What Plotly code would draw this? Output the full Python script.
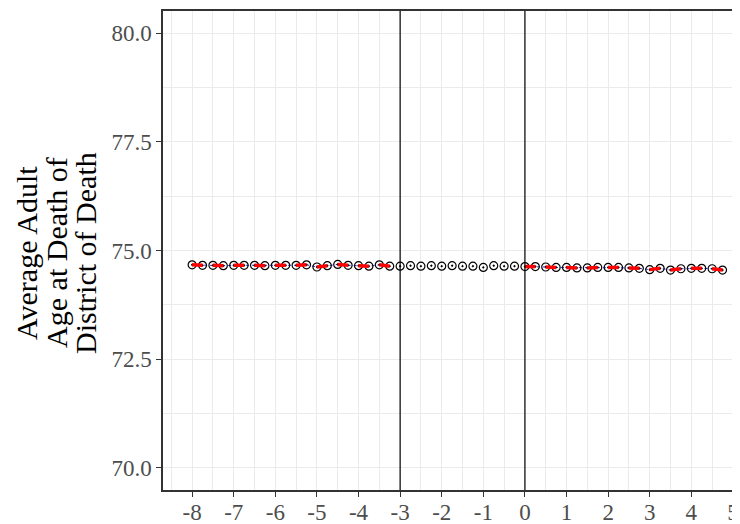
import plotly.graph_objects as go
import math

# running variable (bins) and average adult age at death
x_vals = [-8.0, -7.75, -7.5, -7.25, -7.0, -6.75, -6.5, -6.25, -6.0, -5.75,
          -5.5, -5.25, -5.0, -4.75, -4.5, -4.25, -4.0, -3.75, -3.5, -3.25,
          -3.0, -2.75, -2.5, -2.25, -2.0, -1.75, -1.5, -1.25, -1.0, -0.75,
          -0.5, -0.25, 0.0, 0.25, 0.5, 0.75, 1.0, 1.25, 1.5, 1.75,
          2.0, 2.25, 2.5, 2.75, 3.0, 3.25, 3.5, 3.75, 4.0, 4.25,
          4.5, 4.75]
y_vals = [74.67, 74.66, 74.66, 74.65, 74.66, 74.66, 74.66, 74.65, 74.66, 74.66,
          74.66, 74.67, 74.62, 74.65, 74.68, 74.66, 74.65, 74.64, 74.67, 74.64,
          74.64, 74.65, 74.64, 74.65, 74.64, 74.65, 74.64, 74.64, 74.61, 74.65,
          74.64, 74.64, 74.63, 74.63, 74.62, 74.61, 74.61, 74.60, 74.60, 74.61,
          74.61, 74.61, 74.60, 74.59, 74.56, 74.59, 74.55, 74.58, 74.59, 74.59,
          74.58, 74.55]

cutoffs = [-3, 0]
x_ticks = list(range(-8, 6))
y_ticks = [70.0, 72.5, 75.0, 77.5, 80.0]
y_title_lines = ["Average Adult", "Age at Death of", "District of Death"]

# build red pair segments and blue dotted lines from data
red_x, red_y = [], []
groups = {}
for xv, yv in zip(x_vals, y_vals):
    if cutoffs[0] <= xv < cutoffs[1]:
        continue
    key = math.floor(xv / 0.5 + 1e-9)
    groups.setdefault(key, []).append((xv, yv))
for key in sorted(groups):
    pts = groups[key]
    red_x += [p[0] for p in pts] + [None]
    red_y += [p[1] for p in pts] + [None]

blue_x, blue_y = [], []
for side in (lambda v: v < cutoffs[0], lambda v: v >= cutoffs[1]):
    pts = [(a, b) for a, b in zip(x_vals, y_vals) if side(a)]
    blue_x += [p[0] for p in pts] + [None]
    blue_y += [p[1] for p in pts] + [None]

fig = go.Figure()
for c in cutoffs:
    fig.add_vline(x=c, line=dict(color="black", width=1.2))
fig.add_trace(go.Scatter(x=blue_x, y=blue_y, mode="lines",
                         line=dict(color="#2d2dd6", width=1, dash="dot"),
                         hoverinfo="skip", showlegend=False))
fig.add_trace(go.Scatter(x=x_vals, y=y_vals, mode="markers",
                         marker=dict(symbol="circle-open-dot", size=8, color="black",
                                     line=dict(width=1.2, color="black")),
                         showlegend=False))
fig.add_trace(go.Scatter(x=red_x, y=red_y, mode="lines",
                         line=dict(color="red", width=3.5),
                         hoverinfo="skip", showlegend=False))

# page has an 8px body margin; figure coordinates = page coordinates - 8
L, T, R, B = 155, 3, 8, 42
plot_w = 740 - L - R
grid = "#ebebeb"
title_x_page = [27, 57, 86]
annotations = []
for line, xp in zip(y_title_lines, title_x_page):
    annotations.append(dict(text=line, xref="paper", yref="paper",
                            x=(xp - 8 - L) / plot_w, y=0.495,
                            xanchor="center", yanchor="middle",
                            textangle=-90, showarrow=False,
                            font=dict(family="Liberation Serif", size=30, color="black")))

fig.update_layout(
    width=740, height=524,
    margin=dict(l=L, r=R, t=T, b=B),
    paper_bgcolor="white", plot_bgcolor="white",
    font=dict(family="Liberation Serif", color="#4d4d4d", size=23),
    xaxis=dict(range=[-8.70, 5.17], tickvals=x_ticks,
               ticktext=[str(t) for t in x_ticks],
               showgrid=True, gridcolor=grid, gridwidth=1.2,
               minor=dict(dtick=0.5, tick0=0, showgrid=True, gridcolor=grid, gridwidth=0.6),
               showline=True, linecolor="#333333", linewidth=1.5, mirror=True,
               ticks="outside", ticklen=5, tickcolor="#333333", tickwidth=1.2,
               ticklabelstandoff=-4,
               zeroline=False, automargin=False),
    yaxis=dict(range=[69.49, 80.51], tickvals=y_ticks,
               ticktext=[f"{t:.1f}" for t in y_ticks],
               showgrid=True, gridcolor=grid, gridwidth=1.2,
               minor=dict(dtick=1.25, tick0=70, showgrid=True, gridcolor=grid, gridwidth=0.6),
               showline=True, linecolor="#333333", linewidth=1.5,
               ticks="outside", ticklen=5, tickcolor="#333333", tickwidth=1.2,
               zeroline=False, automargin=False),
    annotations=annotations,
)

fig.write_html("out.html")
